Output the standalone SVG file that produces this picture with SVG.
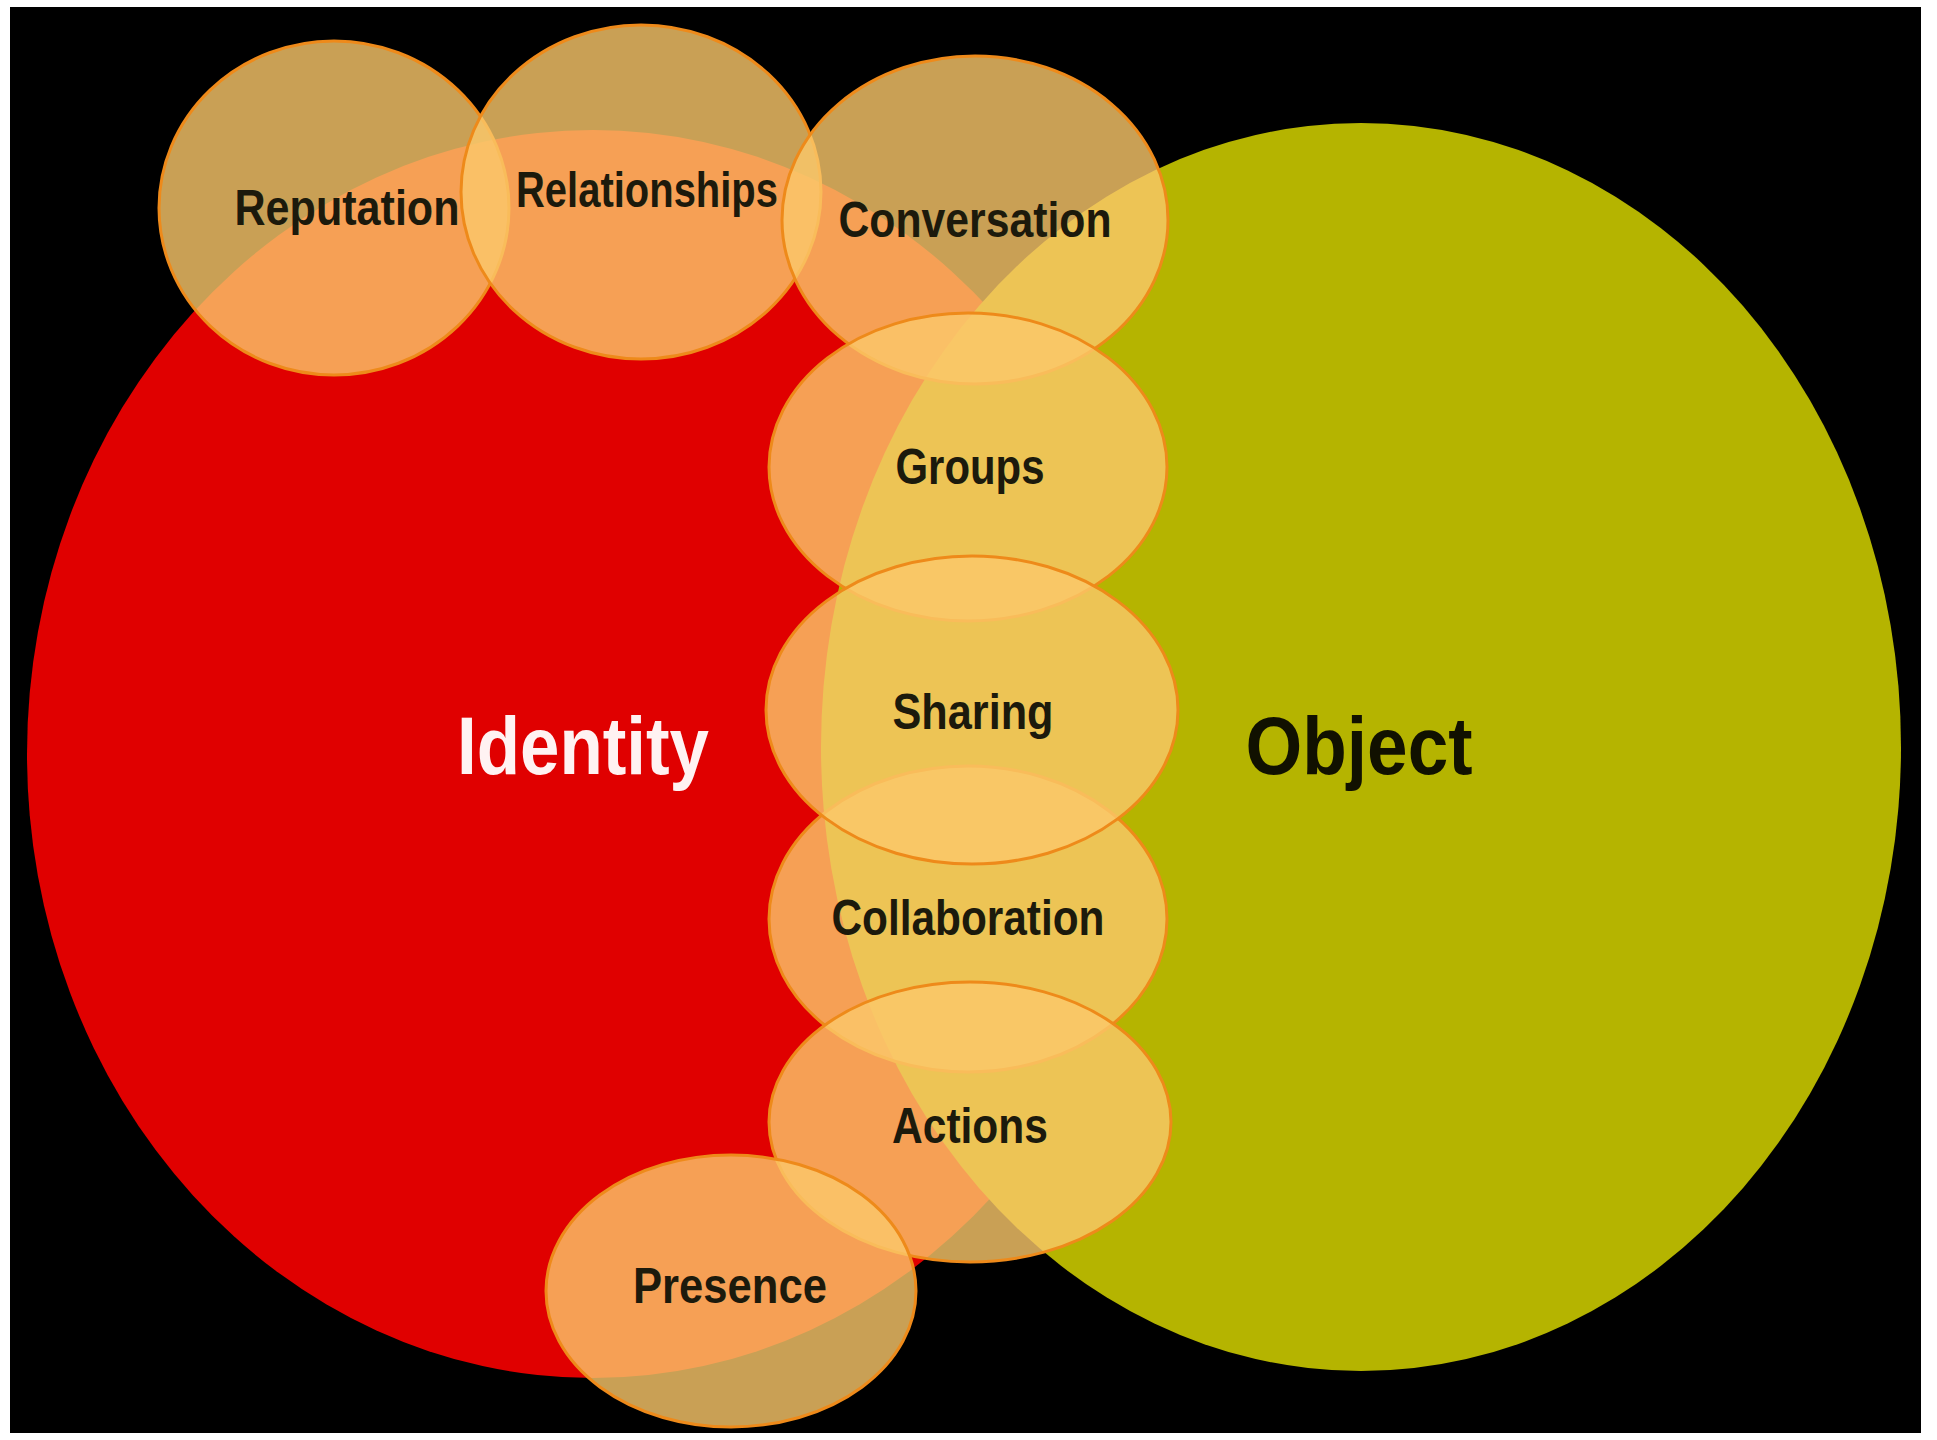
<svg xmlns="http://www.w3.org/2000/svg" width="1937" height="1440" viewBox="0 0 1937 1440">
<style>
.bubble{fill:rgb(251,200,106);fill-opacity:0.8;stroke:#ee8a1a;stroke-width:3}
.lbl{font-family:"Liberation Sans",Arial,sans-serif;font-weight:bold;font-size:50px;fill:#1c1a0c;text-anchor:middle}
.big{font-family:"Liberation Sans",Arial,sans-serif;font-weight:bold;font-size:81px;text-anchor:middle}
</style>
<rect x="0" y="0" width="1937" height="1440" fill="#ffffff"/>
<rect x="10" y="7" width="1911" height="1426" fill="#000000"/>
<g id="identity">
<ellipse cx="593" cy="754" rx="566" ry="624" fill="#e00000"/>
</g>
<g id="object">
<ellipse cx="1361" cy="747" rx="540" ry="624" fill="#b5b400"/>
</g>
<g id="connectors"></g>
<g id="reputation"><ellipse class="bubble" cx="334" cy="208" rx="175" ry="167"/></g>
<g id="relationships"><ellipse class="bubble" cx="641" cy="192" rx="180" ry="167"/></g>
<g id="conversation"><ellipse class="bubble" cx="975" cy="220" rx="193" ry="164"/></g>
<g id="groups"><ellipse class="bubble" cx="968" cy="467" rx="199" ry="154"/></g>
<g id="collaboration"><ellipse class="bubble" cx="968" cy="919" rx="199" ry="153"/></g>
<g id="sharing"><ellipse class="bubble" cx="972" cy="710" rx="206" ry="154"/></g>
<g id="actions"><ellipse class="bubble" cx="970" cy="1122" rx="201" ry="140"/></g>
<g id="presence"><ellipse class="bubble" cx="731" cy="1291" rx="185" ry="136"/></g>
<g id="labels">
<text class="lbl" x="347" y="225" textLength="225" lengthAdjust="spacingAndGlyphs">Reputation</text>
<text class="lbl" x="647" y="207" textLength="262" lengthAdjust="spacingAndGlyphs">Relationships</text>
<text class="lbl" x="975" y="237" textLength="273" lengthAdjust="spacingAndGlyphs">Conversation</text>
<text class="lbl" x="970" y="484" textLength="149" lengthAdjust="spacingAndGlyphs">Groups</text>
<text class="lbl" x="973" y="729" textLength="161" lengthAdjust="spacingAndGlyphs">Sharing</text>
<text class="lbl" x="968" y="935" textLength="273" lengthAdjust="spacingAndGlyphs">Collaboration</text>
<text class="lbl" x="970" y="1143" textLength="156" lengthAdjust="spacingAndGlyphs">Actions</text>
<text class="lbl" x="730" y="1303" textLength="194" lengthAdjust="spacingAndGlyphs">Presence</text>
<text class="big" x="583" y="774" fill="#fff2f2" textLength="252" lengthAdjust="spacingAndGlyphs">Identity</text>
<text class="big" x="1359" y="774" fill="#111100" textLength="227" lengthAdjust="spacingAndGlyphs">Object</text>
</g>
</svg>
